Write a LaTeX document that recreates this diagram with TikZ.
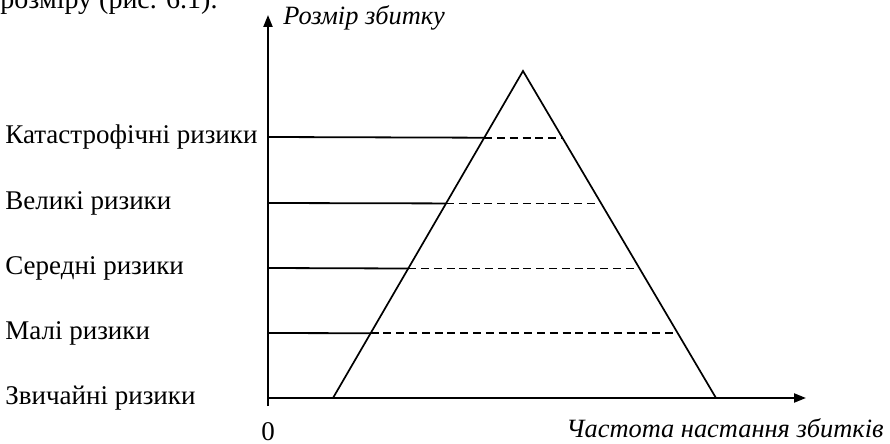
\documentclass[tikz,border=0pt]{standalone}
\usepackage{fontspec}
\setmainfont{Liberation Serif}
\usetikzlibrary{arrows.meta,calc,positioning}

\begin{document}
\begin{tikzpicture}[
  x=0.5pt, y=-0.5pt,
  lbl/.style={anchor=west, inner sep=0pt, font=\fontsize{13.5}{16}\selectfont},
  axlbl/.style={anchor=base west, inner sep=0pt, font=\fontsize{13.2}{16}\selectfont\itshape},
  axis/.style={line width=1.1pt, -{Triangle[length=6pt,width=4.5pt]}},
  edge/.style={line width=0.85pt},
  lvl/.style={line width=0.9pt},
  lvldash/.style={line width=0.9pt, dash pattern=on 4pt off 2.4pt}
]
\useasboundingbox (0,0) rectangle (890,444);
% cut-off line of the page text above
\node[anchor=base west, inner sep=0pt, font=\fontsize{14}{16}\selectfont] (cap) at (0,9) {розміру (рис. 6.1).};

% axes
\coordinate (o)    at (268,398);
\coordinate (obot) at (268,406);
\coordinate (ytip) at (268,15);
\coordinate (xtip) at (806,398);
\draw[axis] (obot) -- (ytip);
\draw[axis] (o) -- (xtip);
\node[axlbl] (ylab) at (283,25) {Розмір збитку};
\node[axlbl] (xlab) at (566,437) {Частота настання збитків};
\node[inner sep=0pt, font=\fontsize{13.5}{16}\selectfont] (zero) at (268,432) {0};

% triangle
\coordinate (apex) at (523,71);
\coordinate (bl)   at (333,398);
\coordinate (br)   at (716,398);
\draw[edge] (bl) -- (apex) -- (br);

% levels
\coordinate (a1) at (268,137); \coordinate (l1) at ($(bl)!0.796!(apex)$); \coordinate (r1) at ($(br)!0.796!(apex)$);
\coordinate (a2) at (268,203); \coordinate (l2) at ($(bl)!0.595!(apex)$); \coordinate (r2) at ($(br)!0.595!(apex)$);
\coordinate (a3) at (268,268); \coordinate (l3) at ($(bl)!0.396!(apex)$); \coordinate (r3) at ($(br)!0.396!(apex)$);
\coordinate (a4) at (268,333); \coordinate (l4) at ($(bl)!0.198!(apex)$); \coordinate (r4) at ($(br)!0.198!(apex)$);
\draw[lvl] (a1) -- (l1); \draw[lvldash] (l1) -- ([xshift=-0.5pt]r1);
\draw[lvl] (a2) -- (l2); \draw[lvldash] (l2) -- ([xshift=-3pt]r2);
\draw[lvl] (a3) -- (l3); \draw[lvldash] (l3) -- ([xshift=-3pt]r3);
\draw[lvl] (a4) -- (l4); \draw[lvldash] (l4) -- ([xshift=-2.5pt]r4);

% level labels
\node[lbl] (cat) at (5,137) {Катастрофічні ризики};
\node[lbl] (big) at (5,203) {Великі ризики};
\node[lbl] (mid) at (5,268) {Середні ризики};
\node[lbl] (low) at (5,333) {Малі ризики};
\node[lbl] (usu) at (5,398) {Звичайні ризики};
\end{tikzpicture}
\end{document}
